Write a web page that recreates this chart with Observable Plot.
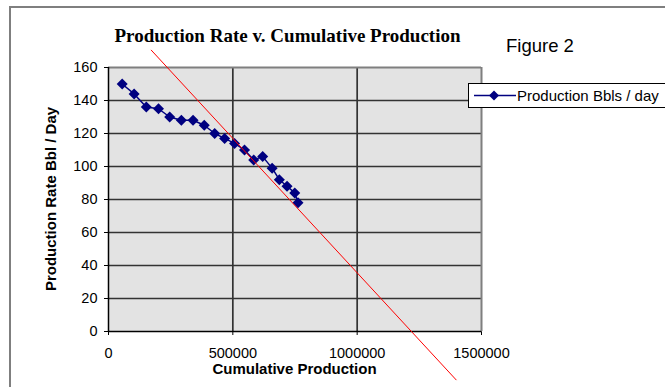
<!DOCTYPE html>
<html>
<head>
<meta charset="utf-8">
<script src="https://cdn.jsdelivr.net/npm/d3@7"></script>
<script src="https://cdn.jsdelivr.net/npm/@observablehq/plot@0.6"></script>
<style>
  html, body { margin: 0; padding: 0; background: #fff; overflow: hidden; }
  #wrap { position: relative; width: 665px; height: 387px; overflow: hidden; font-family: "Liberation Sans", Arial, sans-serif; }
  #chart { position: absolute; left: 0; top: 0; }
  .border { position: absolute; left: 9px; top: 6px; width: 700px; height: 420px; border-left: 2px solid #7f7f7f; border-top: 2px solid #7f7f7f; }
  .title { position: absolute; left: 0; width: 575px; text-align: center; top: 25px; font-family: "Liberation Serif", "Times New Roman", serif; font-weight: bold; font-size: 19px; white-space: nowrap; }
  .fig { position: absolute; left: 506px; top: 35px; font-size: 18.5px; white-space: nowrap; }
  .xtitle { position: absolute; left: 108px; width: 373px; text-align: center; top: 360px; font-weight: bold; font-size: 15px; white-space: nowrap; }
  .ytitle { position: absolute; left: 50px; top: 199px; transform: translate(-50%, -50%) rotate(-90deg); font-weight: bold; font-size: 15px; white-space: nowrap; }
  .legend { position: absolute; left: 468px; top: 83px; width: 215px; height: 23px; border: 1px solid #000; background: #fff; }
  .legend svg { position: absolute; left: 4px; top: 0; }
  .legend span { position: absolute; left: 48px; top: 3px; font-size: 15px; white-space: nowrap; }
</style>
</head>
<body>
<div id="wrap">
  <div class="border"></div>
  <div id="chart"></div>
  <div class="title">Production Rate v. Cumulative Production</div>
  <div class="fig">Figure 2</div>
  <div class="xtitle">Cumulative Production</div>
  <div class="ytitle">Production Rate Bbl / Day</div>
  <div class="legend">
    <svg width="44" height="23">
      <line x1="1" x2="43" y1="11.5" y2="11.5" stroke="#000080" stroke-width="1.5"></line>
      <path d="M21,6.5L26,11.5L21,16.5L16,11.5Z" fill="#000080"></path>
    </svg>
    <span>Production Bbls / day</span>
  </div>
</div>
<script>
// Well history: cumulative barrels produced vs. daily rate
const cumulative = [55000, 103000, 152000, 201000, 246000, 293000, 340000, 385000, 427000, 467000,
                    507000, 547000, 584000, 620000, 658000, 687000, 718000, 749000, 762000];
const rate = [150, 144, 136, 135, 130, 128, 128, 125, 120, 117,
              114, 110, 104, 106, 99, 92, 88, 84, 78];

// Straight-line decline extrapolation (end points)
const trendX = [172000, 1398000];
const trendY = [170.5, -29.3];

const xTicks = [0, 500000, 1000000, 1500000];
const yTicks = [0, 20, 40, 60, 80, 100, 120, 140, 160];
const xGrid = [500000, 1000000];

const points = cumulative.map((c, i) => ({c, r: rate[i]}));
const trend = trendX.map((x, i) => ({x, y: trendY[i]}));

// Square-on-point diamond marker
const diamond = {
  draw(ctx, size) {
    const d = Math.sqrt(size / 2);
    ctx.moveTo(0, -d); ctx.lineTo(d, 0); ctx.lineTo(0, d); ctx.lineTo(-d, 0); ctx.closePath();
  }
};

const chart = Plot.plot({
  width: 665,
  height: 387,
  marginLeft: 108,
  marginRight: 184,
  marginTop: 67,
  marginBottom: 56,
  style: {fontFamily: "'Liberation Sans', Arial, sans-serif", fontSize: "14.5px", background: "transparent", color: "#000"},
  x: {domain: [0, 1500000], ticks: xTicks, tickFormat: d => String(d), tickSize: 4, tickPadding: 12, label: null},
  y: {domain: [0, 160], ticks: yTicks, tickSize: 4, tickPadding: 7, label: null},
  marks: [
    Plot.frame({fill: "#e3e3e3", stroke: null}),
    Plot.ruleY(yTicks.slice(1, -1), {stroke: "#333", strokeWidth: 1.7}),
    Plot.ruleX(xGrid, {stroke: "#333", strokeWidth: 1.7}),
    Plot.ruleY([160], {stroke: "#7f7f7f", strokeWidth: 2}),
    Plot.ruleX([1500000], {stroke: "#7f7f7f", strokeWidth: 2}),
    Plot.ruleX([0], {stroke: "#000", strokeWidth: 1.5}),
    Plot.ruleY([0], {stroke: "#000", strokeWidth: 1.5}),
    Plot.line(points, {x: "c", y: "r", stroke: "#000080", strokeWidth: 1.5}),
    Plot.dot(points, {x: "c", y: "r", symbol: diamond, r: 4.4, fill: "#000080", stroke: null}),
    Plot.line(trend, {x: "x", y: "y", stroke: "#ff0000", strokeWidth: 1})
  ]
});
document.getElementById("chart").appendChild(chart);
</script>
</body>
</html>
